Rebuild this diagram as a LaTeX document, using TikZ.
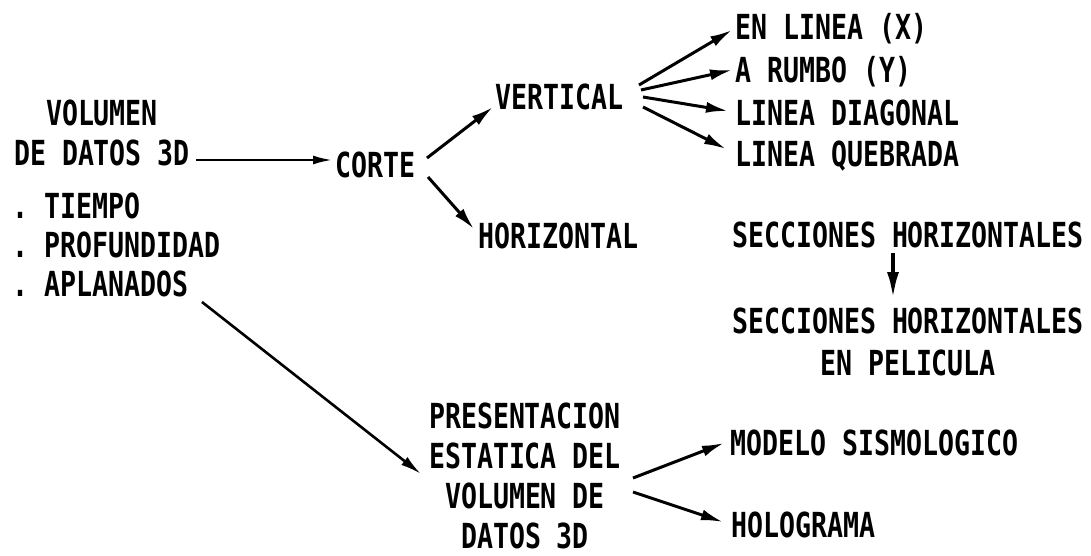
\documentclass[tikz,border=0pt]{standalone}
\usepackage{fontspec}
\newfontfamily\gothic[FakeStretch=0.77]{DejaVu Sans Mono}
\usetikzlibrary{arrows.meta}
\begin{document}
\begin{tikzpicture}[x=1pt,y=-1pt,
  lbl/.style={inner sep=0pt, font=\gothic\bfseries\fontsize{34.5}{#1}\selectfont},
  lbl/.default=41,
  conn/.style={line width=3pt, -{Latex[length=22pt,width=11pt]}},
  thinconn/.style={line width=2.2pt, -{Latex[length=19pt,width=9pt]}},
  longconn/.style={line width=2.6pt, -{Latex[length=21pt,width=10pt]}},
  downconn/.style={line width=4pt, -{Latex[length=27pt,width=12pt]}}]
\useasboundingbox[fill=white] (0,0) rectangle (1091,556);

% data volume and its domains (multi-line nodes sit on their last baseline)
\node[lbl=40, align=center, anchor=base] (vol) at (102,166) {VOLUMEN\\DE DATOS 3D};
\node[lbl=39, align=left, anchor=base west] (dom) at (12,296)
  {.\ TIEMPO\\.\ PROFUNDIDAD\\.\ APLANADOS};

% slicing branch
\node[lbl, anchor=base west] (corte) at (335,178) {CORTE};
\node[lbl, anchor=base west] (vert) at (495,110) {VERTICAL};
\node[lbl, anchor=base west] (horiz) at (478,248) {HORIZONTAL};
\node[lbl, anchor=base west] (enlin) at (735,40) {EN LINEA (X)};
\node[lbl, anchor=base west] (rumbo) at (735,83) {A RUMBO (Y)};
\node[lbl, anchor=base west] (diag) at (735,126) {LINEA DIAGONAL};
\node[lbl, anchor=base west] (queb) at (735,167) {LINEA QUEBRADA};
\node[lbl, anchor=base] (secc) at (908,247) {SECCIONES HORIZONTALES};
\node[lbl=42, align=center, anchor=base] (pelic) at (908,375)
  {SECCIONES HORIZONTALES\\EN PELICULA};

% static presentation branch
\node[lbl=40, align=center, anchor=base] (pres) at (525,548)
  {PRESENTACION\\ESTATICA DEL\\VOLUMEN DE\\DATOS 3D};
\node[lbl, anchor=base west] (model) at (730,455) {MODELO SISMOLOGICO};
\node[lbl, anchor=base west] (holo) at (731,537) {HOLOGRAMA};

% connector end points
\coordinate (volOut) at (196,160);   \coordinate (corteIn) at (332,160);
\coordinate (corteUp) at (427,158);  \coordinate (vertIn) at (493,107);
\coordinate (corteDn) at (428,177);  \coordinate (horizIn) at (474,229);
\coordinate (vOut1) at (639,85);     \coordinate (enlinIn) at (732,30);
\coordinate (vOut2) at (641,90);     \coordinate (rumboIn) at (732,70);
\coordinate (vOut3) at (643,97);     \coordinate (diagIn) at (728,111);
\coordinate (vOut4) at (643,107);    \coordinate (quebIn) at (726,149);
\coordinate (seccOut) at (893,253);  \coordinate (pelicIn) at (893,299);
\coordinate (domOut) at (202,302);   \coordinate (presIn) at (421,474);
\coordinate (presUp) at (633,478);   \coordinate (modelIn) at (724,443);
\coordinate (presDn) at (633,492);   \coordinate (holoIn) at (723,522);

\draw[thinconn] (volOut) -- (corteIn);
\draw[conn] (corteUp) -- (vertIn);
\draw[conn] (corteDn) -- (horizIn);
\draw[conn] (vOut1) -- (enlinIn);
\draw[conn] (vOut2) -- (rumboIn);
\draw[conn] (vOut3) -- (diagIn);
\draw[conn] (vOut4) -- (quebIn);
\draw[downconn] (seccOut) -- (pelicIn);
\draw[longconn] (domOut) -- (presIn);
\draw[conn] (presUp) -- (modelIn);
\draw[conn] (presDn) -- (holoIn);
\end{tikzpicture}
\end{document}
